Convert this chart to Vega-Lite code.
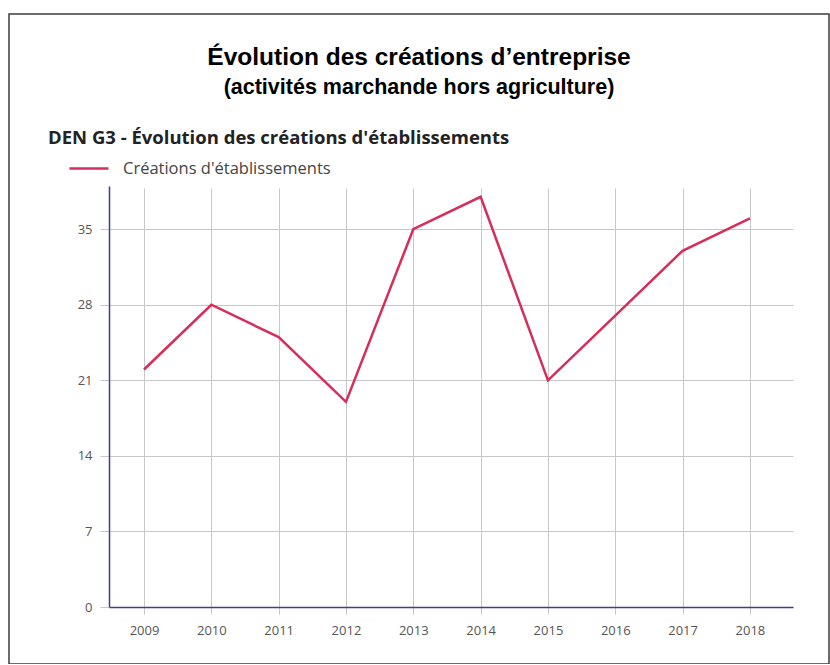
{
  "$schema": "https://vega.github.io/schema/vega-lite/v6.json",
  "autosize": "none",
  "padding": {"left": 9, "top": 14, "right": 1, "bottom": 0},
  "width": 820,
  "height": 650,
  "background": "white",
  "title": {
    "text": "Évolution des créations d’entreprise",
    "subtitle": "(activités marchande hors agriculture)",
    "anchor": "middle",
    "frame": "group",
    "offset": -85,
    "font": "Liberation Sans",
    "fontSize": 24.5,
    "fontWeight": "bold",
    "color": "#000000",
    "subtitleFont": "Liberation Sans",
    "subtitleFontSize": 21.5,
    "subtitleFontWeight": "bold",
    "subtitleColor": "#000000",
    "subtitlePadding": 6
  },
  "data": {
    "values": [
      {"annee": 2009, "creations": 22},
      {"annee": 2010, "creations": 28},
      {"annee": 2011, "creations": 25},
      {"annee": 2012, "creations": 19},
      {"annee": 2013, "creations": 35},
      {"annee": 2014, "creations": 38},
      {"annee": 2015, "creations": 21},
      {"annee": 2016, "creations": 27},
      {"annee": 2017, "creations": 33},
      {"annee": 2018, "creations": 36}
    ]
  },
  "resolve": {"axis": {"x": "independent", "y": "independent"}, "scale": {"y": "independent"}},
  "layer": [
    {
      "mark": {"type": "point", "opacity": 0},
      "encoding": {
        "x": {
          "field": "annee",
          "type": "quantitative",
          "scale": {"domain": [2008.48, 2018.64], "range": [100, 784], "nice": false, "zero": false},
          "axis": {
            "title": null,
            "orient": "bottom",
            "offset": 0,
            "values": [2009, 2010, 2011, 2012, 2013, 2014, 2015, 2016, 2017, 2018],
            "grid": true,
            "domain": false,
            "ticks": false,
            "labels": false
          }
        },
        "y": {
          "field": "creations",
          "type": "quantitative",
          "scale": {"domain": [0, 39], "range": [50, 476], "nice": false},
          "axis": null
        }
      }
    },
    {
      "mark": {"type": "line", "strokeWidth": 2.5, "strokeJoin": "miter"},
      "encoding": {
        "x": {
          "field": "annee",
          "type": "quantitative",
          "scale": {"domain": [2008.48, 2018.64], "range": [100, 784], "nice": false, "zero": false},
          "axis": {
            "title": null,
            "orient": "bottom",
            "offset": -57,
            "values": [2009, 2010, 2011, 2012, 2013, 2014, 2015, 2016, 2017, 2018],
            "format": "d",
            "grid": false,
            "tickSize": 7,
            "labelPadding": 10
          }
        },
        "y": {
          "field": "creations",
          "type": "quantitative",
          "scale": {"domain": [0, 39], "range": [593, 172], "nice": false},
          "axis": {
            "title": null,
            "orient": "left",
            "offset": -100,
            "values": [0, 7, 14, 21, 28, 35],
            "grid": true,
            "tickSize": 9,
            "labelPadding": 8
          }
        },
        "color": {
          "datum": "Créations d'établissements",
          "type": "nominal",
          "scale": {"range": ["#d62d5a"]},
          "legend": {
            "title": "DEN G3 - Évolution des créations d'établissements",
            "orient": "none",
            "legendX": 39,
            "legendY": 115,
            "symbolType": "stroke",
            "symbolSize": 1521,
            "symbolStrokeWidth": 2.5,
            "symbolOffset": 20,
            "labelOffset": 13,
            "labelLimit": 500,
            "titlePadding": 0
          }
        }
      }
    }
  ],
  "config": {
    "view": {"stroke": "#3c3c3c", "strokeWidth": 1.5},
    "axis": {
      "domainColor": "#3a3f99",
      "domainWidth": 1.5,
      "gridColor": "#c8c8c8",
      "gridWidth": 1,
      "tickColor": "#c8c8c8",
      "labelColor": "#555555",
      "labelFont": "Open Sans",
      "labelFontSize": 13
    },
    "legend": {
      "titleFont": "Open Sans",
      "titleFontSize": 18.5,
      "titleFontWeight": "bold",
      "titleColor": "#222222",
      "titleLimit": 700,
      "labelFont": "Open Sans",
      "labelFontSize": 16.5,
      "labelColor": "#444444",
      "padding": 0
    }
  }
}
